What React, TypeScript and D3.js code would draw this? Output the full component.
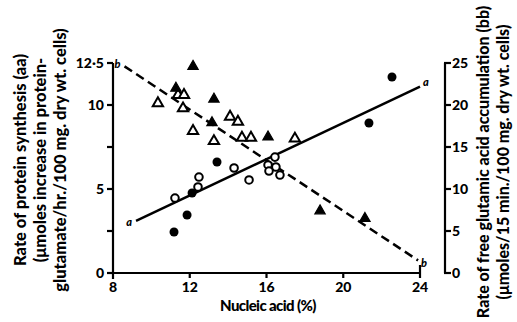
import React, { useEffect, useRef } from 'react';
import * as d3 from 'd3';

// protein synthesis (left axis, aa)
const filledCircles: [number, number][] = [
  [11.18, 2.44], [11.86, 3.45], [12.12, 4.76], [13.42, 6.61], [21.34, 8.93], [22.54, 11.67],
];
const openCircles: [number, number][] = [
  [11.23, 4.46], [12.48, 5.71], [12.43, 5.12], [14.31, 6.25], [15.09, 5.54],
  [16.44, 6.9], [16.08, 6.43], [16.49, 6.31], [16.13, 6.07], [16.7, 5.83],
];
// free glutamic acid accumulation (right axis, bb)
const filledTriangles: [number, number][] = [
  [12.17, 24.6], [11.28, 22.0], [13.26, 20.7], [13.16, 17.9], [16.08, 16.2], [18.79, 7.4], [21.13, 6.5],
];
const openTriangles: [number, number][] = [
  [10.34, 20.2], [11.39, 21.2], [11.7, 21.2], [11.65, 19.6], [12.17, 16.9], [13.26, 15.7],
  [14.1, 18.6], [14.51, 18.0], [14.72, 16.1], [15.19, 16.1], [17.48, 16.0],
];
// fitted lines
const lineA: [number, number][] = [[9.2, 3.1], [24, 11.1]];
const lineB: [number, number][] = [[8.6, 24.6], [23.9, 1.5]];

const xTicks = [8, 12, 16, 20, 24];
const leftTicks = [0, 2.5, 5, 7.5, 10, 12.5];
const leftLabels: Record<string, string> = { '0': '0', '5': '5', '10': '10', '12.5': '12·5' };
const rightTicks = [0, 5, 10, 15, 20, 25];

const font = 'Lato, "Open Sans", sans-serif';

const App: React.FC = () => {
  const svgRef = useRef<SVGSVGElement>(null);

  useEffect(() => {
    if (!svgRef.current) return;
    const svg = d3.select(svgRef.current);
    svg.selectAll('*').remove();

    const x = d3.scaleLinear().domain([8, 24]).range([113, 420]);
    const yL = d3.scaleLinear().domain([0, 12.5]).range([273, 63]);
    const yR = d3.scaleLinear().domain([0, 25]).range([273, 63]);
    const sw = 2.2;

    // left axis
    svg.append('line').attr('x1', 113).attr('x2', 113).attr('y1', yL(12.5)).attr('y2', 279)
      .attr('stroke', '#000').attr('stroke-width', sw);
    leftTicks.forEach(t => {
      svg.append('line').attr('x1', 107).attr('x2', 113).attr('y1', yL(t)).attr('y2', yL(t))
        .attr('stroke', '#000').attr('stroke-width', sw);
      const lab = leftLabels[String(t)];
      if (lab) {
        svg.append('text').attr('x', 104).attr('y', yL(t)).attr('dy', '0.35em')
          .attr('text-anchor', 'end').attr('font-family', font).attr('font-weight', 900)
          .attr('font-size', 14).text(lab);
      }
    });

    // bottom axis
    svg.append('line').attr('x1', 112).attr('x2', x(24) + 1).attr('y1', 273).attr('y2', 273)
      .attr('stroke', '#000').attr('stroke-width', sw);
    xTicks.forEach(t => {
      if (t !== 8) {
        svg.append('line').attr('x1', x(t)).attr('x2', x(t)).attr('y1', t === 24 ? 265 : 273).attr('y2', 278)
          .attr('stroke', '#000').attr('stroke-width', sw);
      }
      svg.append('text').attr('x', x(t)).attr('y', 292).attr('text-anchor', 'middle')
        .attr('font-family', font).attr('font-weight', 900).attr('font-size', 14).text(t);
    });
    svg.append('text').attr('x', 268).attr('y', 311).attr('text-anchor', 'middle')
      .attr('font-family', font).attr('font-weight', 900).attr('font-size', 15)
      .attr('letter-spacing', -0.6).text('Nucleic acid (%)');

    // right axis
    svg.append('line').attr('x1', 445).attr('x2', 445).attr('y1', yR(25)).attr('y2', yR(0))
      .attr('stroke', '#000').attr('stroke-width', sw);
    rightTicks.forEach(t => {
      svg.append('line').attr('x1', 444).attr('x2', 451).attr('y1', yR(t)).attr('y2', yR(t))
        .attr('stroke', '#000').attr('stroke-width', sw);
      svg.append('text').attr('x', 452).attr('y', yR(t)).attr('dy', '0.35em')
        .attr('font-family', font).attr('font-weight', 900).attr('font-size', 14).text(t);
    });

    // axis titles
    const leftTitle = [
      'Rate of protein synthesis (aa)',
      '(\u03bcmoles increase in protein-',
      'glutamate/hr./100 mg. dry wt. cells)',
    ];
    leftTitle.forEach((s, i) => {
      svg.append('text').attr('transform', `translate(${26 + i * 20},160) rotate(-90)`)
        .attr('text-anchor', 'middle').attr('font-family', font).attr('font-weight', 900)
        .attr('font-size', 16.5).text(s);
    });
    const rightTitle = [
      'Rate of free glutamic acid accumulation (bb)',
      '(\u03bcmoles/15 min./100 mg. dry wt. cells)',
    ];
    rightTitle.forEach((s, i) => {
      svg.append('text').attr('transform', `translate(${489 + i * 20},162) rotate(-90)`)
        .attr('text-anchor', 'middle').attr('font-family', font).attr('font-weight', 900)
        .attr('font-size', 16).text(s);
    });

    // fitted lines
    const lineGen = (ys: d3.ScaleLinear<number, number>) =>
      d3.line<[number, number]>().x(d => x(d[0])).y(d => ys(d[1]));
    svg.append('path').attr('d', lineGen(yL)(lineA)).attr('fill', 'none')
      .attr('stroke', '#000').attr('stroke-width', 2.5);
    svg.append('path').attr('d', lineGen(yR)(lineB)).attr('fill', 'none')
      .attr('stroke', '#000').attr('stroke-width', 2.5).attr('stroke-dasharray', '9,5');

    const lineLabel = (px: number, py: number, t: string) =>
      svg.append('text').attr('x', px).attr('y', py).attr('dy', '0.35em').attr('text-anchor', 'middle')
        .attr('font-family', font).attr('font-weight', 900).attr('font-style', 'italic')
        .attr('font-size', 11).text(t);
    lineLabel(x(lineA[0][0]) - 7, yL(lineA[0][1]) + 1, 'a');
    lineLabel(x(lineA[1][0]) + 6, yL(lineA[1][1]) - 4, 'a');
    lineLabel(x(lineB[0][0]) - 7, yR(lineB[0][1]) - 2, 'b');
    lineLabel(x(lineB[1][0]) + 6, yR(lineB[1][1]) + 3, 'b');

    // markers
    const tri = d3.symbol().type(d3.symbolTriangle).size(46);
    svg.selectAll('.otri').data(openTriangles).enter().append('path')
      .attr('d', tri()).attr('transform', d => `translate(${x(d[0])},${yR(d[1])})`)
      .attr('fill', '#fff').attr('stroke', '#000').attr('stroke-width', 2);
    svg.selectAll('.ftri').data(filledTriangles).enter().append('path')
      .attr('d', tri()).attr('transform', d => `translate(${x(d[0])},${yR(d[1])})`)
      .attr('fill', '#000').attr('stroke', '#000').attr('stroke-width', 1.2);
    svg.selectAll('.ocirc').data(openCircles).enter().append('circle')
      .attr('cx', d => x(d[0])).attr('cy', d => yL(d[1])).attr('r', 3.8)
      .attr('fill', '#fff').attr('stroke', '#000').attr('stroke-width', 2);
    svg.selectAll('.fcirc').data(filledCircles).enter().append('circle')
      .attr('cx', d => x(d[0])).attr('cy', d => yL(d[1])).attr('r', 4.5)
      .attr('fill', '#000');
  }, []);

  return (
    <svg ref={svgRef} width={517} height={322}
      style={{ position: 'absolute', left: 0, top: 0, background: '#fff' }} />
  );
};

export default App;
